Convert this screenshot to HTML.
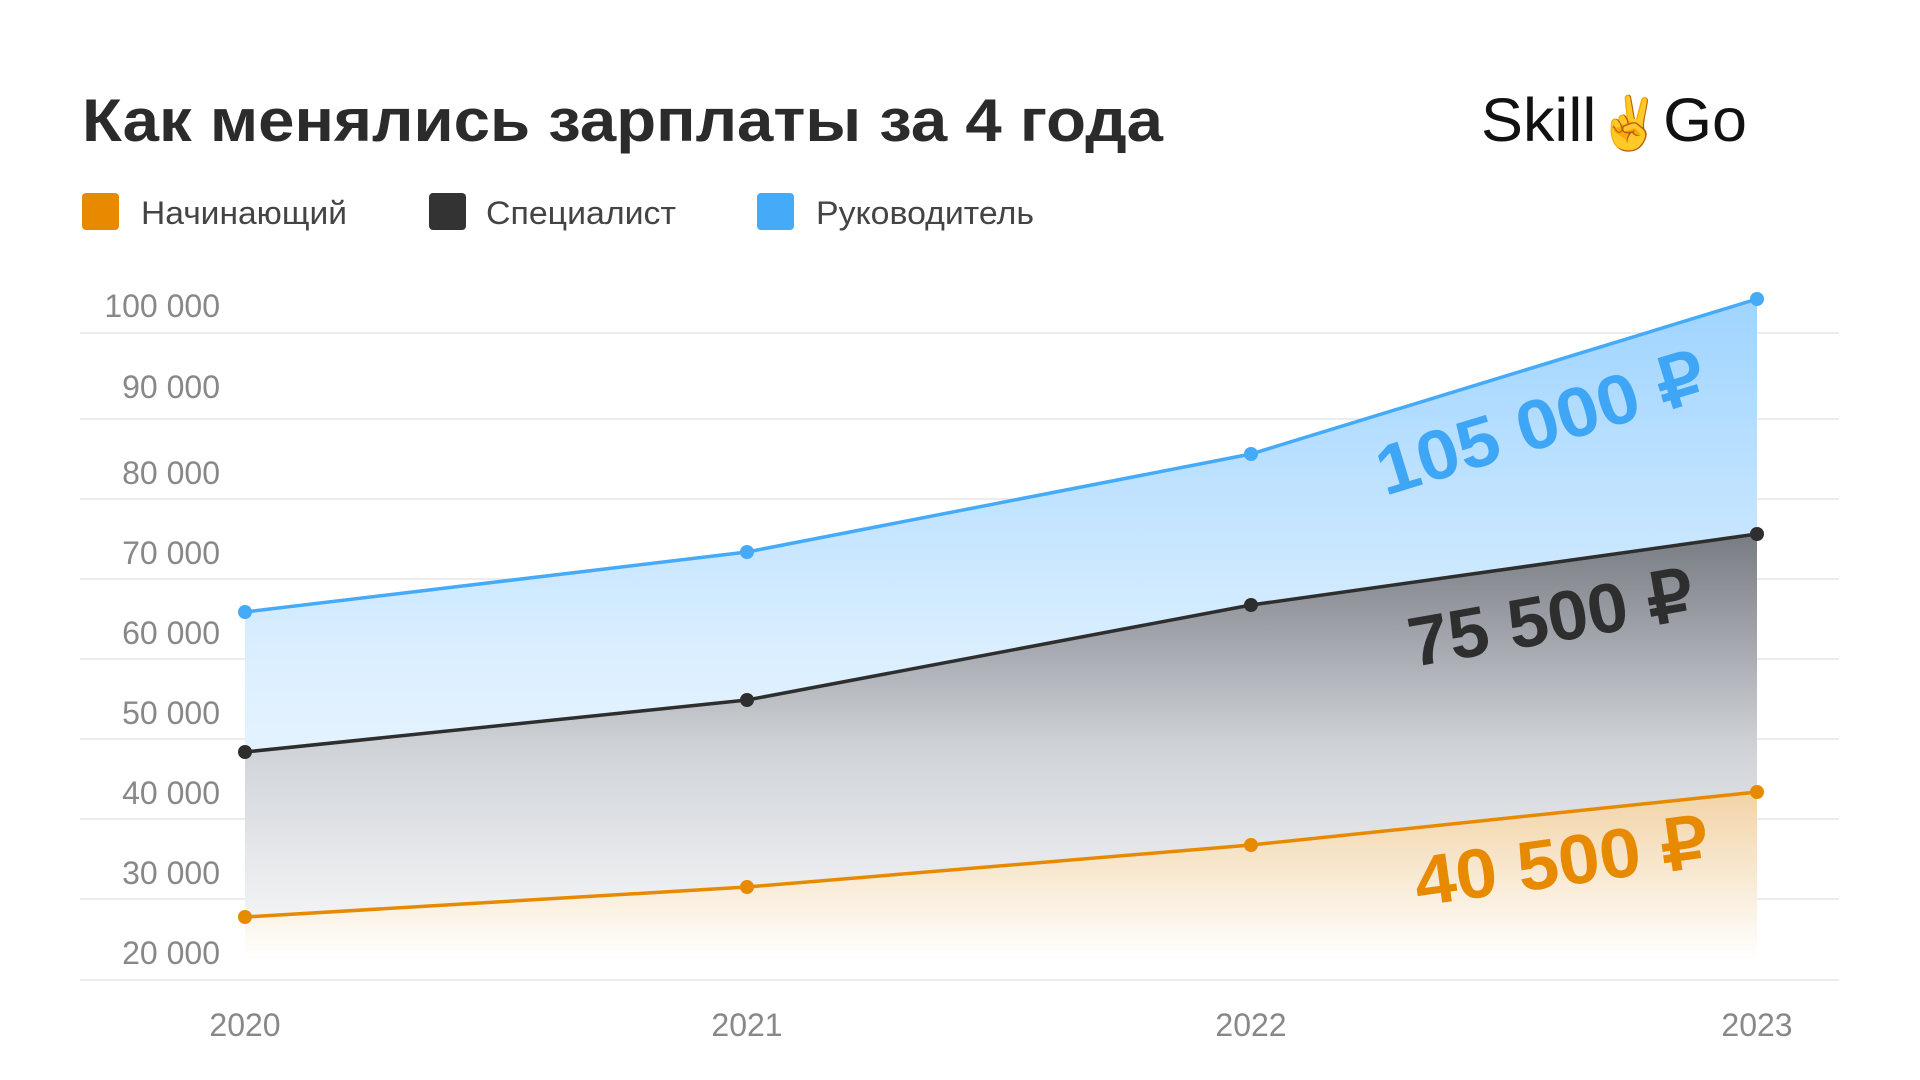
<!DOCTYPE html>
<html><head><meta charset="utf-8"><style>
html,body{margin:0;padding:0;background:#fff;}
svg{display:block;font-family:"Liberation Sans",sans-serif;}
</style></head><body>
<svg width="1920" height="1080" viewBox="0 0 1920 1080">
<defs>
<linearGradient id="gb" x1="0" y1="299" x2="0" y2="960" gradientUnits="userSpaceOnUse">
<stop offset="0" stop-color="#9fd4ff"/><stop offset="0.55" stop-color="#dcefff"/><stop offset="1" stop-color="#f6fbff"/></linearGradient>
<linearGradient id="gk" x1="0" y1="534" x2="0" y2="960" gradientUnits="userSpaceOnUse">
<stop offset="0" stop-color="#777b82"/><stop offset="0.5" stop-color="#cfd3d8"/><stop offset="1" stop-color="#fbfbfc"/></linearGradient>
<linearGradient id="go" x1="0" y1="792" x2="0" y2="960" gradientUnits="userSpaceOnUse">
<stop offset="0" stop-color="#f2d3a6"/><stop offset="1" stop-color="#ffffff"/></linearGradient>
</defs>
<text x="82" y="141" font-size="60" font-weight="bold" fill="#2b2b2b" textLength="1081" lengthAdjust="spacingAndGlyphs">Как менялись зарплаты за 4 года</text>
<text x="1481" y="141" font-size="61" fill="#111" textLength="266" lengthAdjust="spacingAndGlyphs">Skill<tspan font-size="52">✌</tspan>Go</text>
<rect x="82" y="193" width="37" height="37" rx="4" fill="#e88a00"/>
<text x="141" y="224" font-size="32" fill="#444" textLength="206" lengthAdjust="spacingAndGlyphs">Начинающий</text>
<rect x="429" y="193" width="37" height="37" rx="4" fill="#333"/>
<text x="486" y="224" font-size="32" fill="#444" textLength="190" lengthAdjust="spacingAndGlyphs">Специалист</text>
<rect x="757" y="193" width="37" height="37" rx="4" fill="#45aaf8"/>
<text x="816" y="224" font-size="32" fill="#444" textLength="218" lengthAdjust="spacingAndGlyphs">Руководитель</text>
<g stroke="#e6e6e6" stroke-width="1.5">
<line x1="80" x2="1839" y1="333" y2="333"/><line x1="80" x2="1839" y1="419" y2="419"/>
<line x1="80" x2="1839" y1="499" y2="499"/><line x1="80" x2="1839" y1="579" y2="579"/>
<line x1="80" x2="1839" y1="659" y2="659"/><line x1="80" x2="1839" y1="739" y2="739"/>
<line x1="80" x2="1839" y1="819" y2="819"/><line x1="80" x2="1839" y1="899" y2="899"/>
<line x1="80" x2="1839" y1="980" y2="980"/>
</g>
<g font-size="32" fill="#888" text-anchor="end">
<text x="220" y="317">100 000</text><text x="220" y="398">90 000</text>
<text x="220" y="484">80 000</text><text x="220" y="564">70 000</text>
<text x="220" y="644">60 000</text><text x="220" y="724">50 000</text>
<text x="220" y="804">40 000</text><text x="220" y="884">30 000</text>
<text x="220" y="964">20 000</text>
</g>
<g font-size="32" fill="#888" text-anchor="middle">
<text x="245" y="1036">2020</text><text x="747" y="1036">2021</text>
<text x="1251" y="1036">2022</text><text x="1757" y="1036">2023</text>
</g>
<polygon points="245,612 747,552 1251,454 1757,299 1757,534 1251,605 747,700 245,752" fill="url(#gb)"/>
<polygon points="245,752 747,700 1251,605 1757,534 1757,792 1251,845 747,887 245,917" fill="url(#gk)"/>
<polygon points="245,917 747,887 1251,845 1757,792 1757,960 245,960" fill="url(#go)"/>
<polyline points="245,612 747,552 1251,454 1757,299" fill="none" stroke="#45aaf8" stroke-width="3.5"/>
<polyline points="245,752 747,700 1251,605 1757,534" fill="none" stroke="#2e2e2e" stroke-width="3.5"/>
<polyline points="245,917 747,887 1251,845 1757,792" fill="none" stroke="#e88a00" stroke-width="3.5"/>
<g fill="#45aaf8"><circle cx="245" cy="612" r="7"/><circle cx="747" cy="552" r="7"/><circle cx="1251" cy="454" r="7"/><circle cx="1757" cy="299" r="7"/></g>
<g fill="#2e2e2e"><circle cx="245" cy="752" r="7"/><circle cx="747" cy="700" r="7"/><circle cx="1251" cy="605" r="7"/><circle cx="1757" cy="534" r="7"/></g>
<g fill="#e88a00"><circle cx="245" cy="917" r="7"/><circle cx="747" cy="887" r="7"/><circle cx="1251" cy="845" r="7"/><circle cx="1757" cy="792" r="7"/></g>
<g font-size="70" font-weight="bold">
<text transform="translate(1385,496) rotate(-17)" fill="#3ea6f5" textLength="340" lengthAdjust="spacingAndGlyphs">105 000 ₽</text>
<text transform="translate(1413,667) rotate(-10)" fill="#2e2e2e" textLength="288" lengthAdjust="spacingAndGlyphs">75 500 ₽</text>
<text transform="translate(1418,906) rotate(-8)" fill="#e88a00" textLength="296" lengthAdjust="spacingAndGlyphs">40 500 ₽</text>
</g>
</svg>
</body></html>
